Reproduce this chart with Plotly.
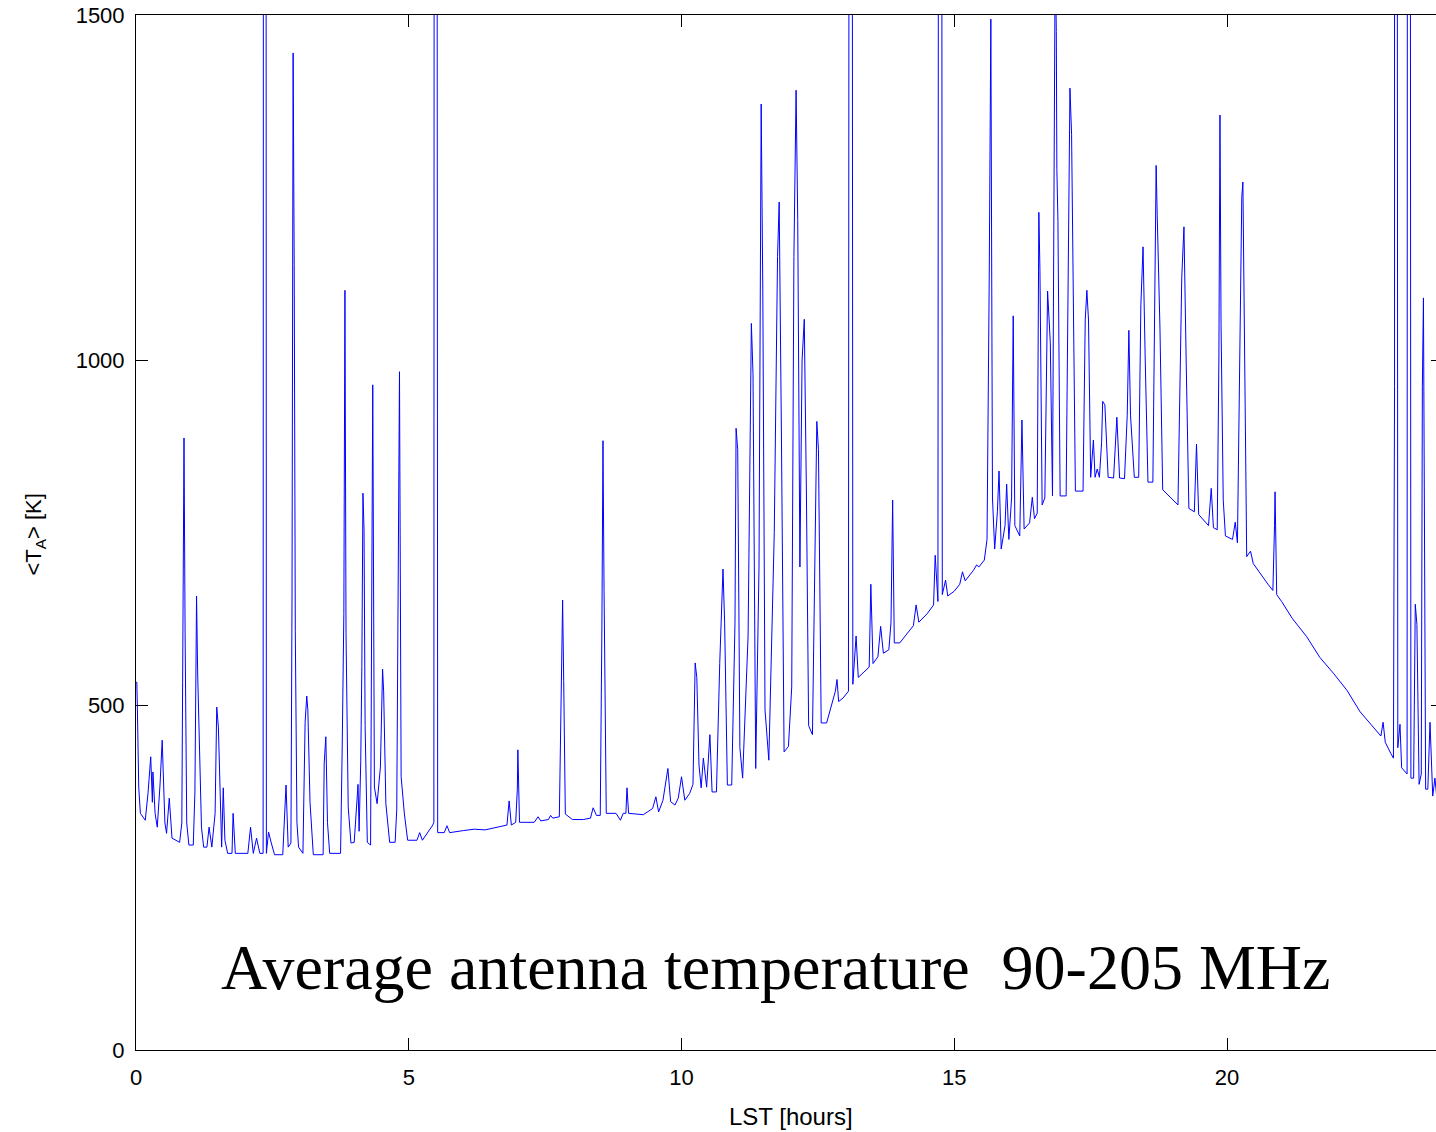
import plotly.graph_objects as go

# ---- data: (LST hours, <T_A> K) ----
seg1_lst = [0.000, 0.015, 0.025, 0.05, 0.08, 0.17, 0.22, 0.27, 0.30, 0.31, 0.35, 0.39, 0.44, 0.48, 0.53, 0.56,
            0.61, 0.66, 0.80, 0.84, 0.855, 0.88, 0.90, 0.93, 0.97, 1.05, 1.08, 1.11, 1.13, 1.17, 1.20, 1.24,
            1.30, 1.34, 1.39, 1.45, 1.48, 1.51, 1.55, 1.57, 1.60, 1.63, 1.68, 1.76, 1.78, 1.82, 2.05, 2.10,
            2.15, 2.21, 2.27, 2.33, 2.34, 2.38, 2.39, 2.43, 2.48, 2.54, 2.69, 2.75, 2.79, 2.84, 2.86, 2.88,
            2.90, 2.92, 2.95, 2.98, 3.06, 3.10, 3.13, 3.15, 3.19, 3.25, 3.43, 3.45, 3.48, 3.51, 3.55, 3.75,
            3.78, 3.81, 3.83, 3.85, 3.89, 3.94, 4.00, 4.03, 4.07, 4.09, 4.12, 4.14, 4.16, 4.18, 4.20, 4.24,
            4.30, 4.32, 4.34, 4.37, 4.42, 4.48, 4.52, 4.54, 4.58, 4.65, 4.75, 4.78, 4.81, 4.83, 4.86, 4.92,
            4.98, 5.15, 5.20, 5.25, 5.44, 5.46, 5.47, 5.51, 5.53, 5.65, 5.70, 5.75]
seg1_ta = [533, 533, 497, 381, 343, 333, 372, 425, 359, 403, 343, 323, 384, 449, 329, 314,
           365, 307, 301, 329, 533, 887, 604, 329, 297, 297, 374, 658, 548, 420, 323, 294,
           294, 323, 294, 343, 497, 468, 323, 294, 380, 304, 285, 285, 343, 285, 285, 323,
           285, 307, 285, 285, 3000, 3000, 285, 316, 300, 283, 283, 384, 294, 300, 658, 1445,
           1138, 606, 330, 294, 285, 475, 513, 493, 359, 283, 283, 416, 454, 330, 285, 285,
           439, 633, 1101, 604, 352, 300, 301, 343, 385, 317, 419, 556, 807, 755, 470, 301,
           297, 632, 964, 381, 357, 410, 552, 519, 357, 301, 301, 349, 772, 983, 396, 342,
           304, 304, 315, 304, 326, 330, 3000, 3000, 315, 315, 325, 315]

seg2_lst = [6.00, 6.20, 6.40, 6.70, 6.80, 6.84, 6.88, 6.96, 6.99, 7.00, 7.03, 7.30, 7.37, 7.42, 7.56, 7.60,
            7.64, 7.76, 7.79, 7.82, 7.84, 7.87, 8.00, 8.20, 8.33, 8.38, 8.44, 8.51, 8.54, 8.56, 8.58, 8.62,
            8.80, 8.88, 8.93, 8.98, 9.00, 9.03, 9.30, 9.47, 9.53, 9.58, 9.66, 9.70, 9.75, 9.80, 9.88, 9.94,
            10.00, 10.06, 10.15, 10.21, 10.25, 10.28, 10.32, 10.36, 10.40, 10.46, 10.52, 10.56, 10.64, 10.70,
            10.76, 10.79, 10.84, 10.92, 10.98, 11.00, 11.03, 11.07, 11.12, 11.22, 11.28, 11.31, 11.36, 11.42,
            11.46, 11.49, 11.53, 11.60, 11.70, 11.76, 11.79, 11.83, 11.88, 11.96]
seg2_ta = [318, 320, 319, 324, 326, 361, 326, 330, 378, 435, 330, 330, 338, 332, 334, 340,
           336, 338, 483, 652, 536, 342, 334, 334, 336, 351, 340, 340, 610, 883, 664, 343,
           343, 333, 343, 343, 380, 343, 341, 350, 367, 345, 362, 381, 408, 360, 355, 365,
           396, 362, 372, 385, 561, 540, 413, 380, 423, 381, 457, 374, 374, 560,
           697, 620, 384, 384, 620, 901, 870, 438, 394, 600, 1053, 980, 408, 700,
           1371, 1100, 493, 420, 750, 1150, 1229, 900, 432, 440]

seg3_lst = [12.02, 12.06, 12.10, 12.13, 12.17, 12.21, 12.25, 12.29, 12.33, 12.40, 12.45, 12.48, 12.51, 12.56,
            12.66, 12.75, 12.82, 12.85, 12.88, 12.96, 13.06, 13.08, 13.12, 13.14, 13.20, 13.24, 13.34, 13.44,
            13.47, 13.51, 13.60, 13.65, 13.70, 13.80, 13.84, 13.87, 13.90, 14.00, 14.10, 14.25, 14.30, 14.35,
            14.50, 14.62, 14.65, 14.70, 14.72, 14.76, 14.78, 14.84, 14.88, 15.00, 15.10, 15.15, 15.20, 15.35,
            15.41, 15.45, 15.55, 15.60, 15.64, 15.66, 15.67, 15.70, 15.74, 15.79, 15.82, 15.86, 15.93, 15.96,
            16.00, 16.05, 16.08, 16.11, 16.20, 16.24, 16.28, 16.38, 16.43, 16.47, 16.52, 16.55, 16.57, 16.61,
            16.66, 16.71, 16.76, 16.80, 16.83, 16.85, 16.87, 16.88, 16.90, 16.94, 17.05, 17.10, 17.12, 17.15,
            17.17, 17.22, 17.36, 17.40, 17.43, 17.46, 17.50, 17.55, 17.58, 17.62, 17.66, 17.70, 17.72, 17.76,
            17.82, 17.92, 17.98]
seg3_ta = [526, 1150, 1391, 1204, 700, 1000, 1059, 800, 470, 457, 700, 911, 870, 474,
           474, 500, 520, 537, 505, 510, 520, 3000, 3000, 530, 600, 540, 548, 555,
           675, 560, 570, 614, 575, 580, 620, 797, 590, 590, 600, 615, 645, 620,
           632, 645, 717, 650, 3000, 3000, 660, 681, 658, 665, 675, 693, 680, 695,
           703, 700, 710, 740, 1116, 1293, 1494, 800, 726, 780, 839, 726, 760, 820,
           740, 800, 1064, 760, 745, 913, 755, 764, 801, 770, 778, 1214, 1130, 790,
           800, 1100, 1025, 803, 1475, 1600, 1476, 1276, 1201, 803, 803, 1327, 1394, 1327,
           1168, 810, 810, 1058, 1101, 1058, 830, 884, 830, 842, 830, 880, 940, 935,
           830, 829, 917]

seg4_lst = [18.03, 18.12, 18.17, 18.20, 18.23, 18.30, 18.38, 18.42, 18.46, 18.50, 18.55, 18.64, 18.68, 18.70,
            18.72, 18.77, 18.82, 19.10, 19.17, 19.21, 19.25, 19.30, 19.40, 19.44, 19.48, 19.66, 19.71, 19.75,
            19.82, 19.85, 19.87, 19.89, 19.93, 19.97, 20.10, 20.15, 20.19, 20.24, 20.27, 20.29, 20.32, 20.36,
            20.43, 20.48, 20.75, 20.84, 20.87, 20.88, 20.91, 21.00, 21.20, 21.46, 21.70, 21.95, 22.20, 22.44,
            22.68, 22.82, 22.86, 22.90, 23.00, 23.05, 23.07, 23.07, 23.11, 23.13, 23.17, 23.20, 23.30, 23.31,
            23.35, 23.37, 23.42, 23.45, 23.48, 23.52, 23.56, 23.58, 23.60, 23.64, 23.68, 23.72, 23.77, 23.81,
            23.84]
seg4_ta = [829, 828, 920, 1043, 920, 830, 830, 1080, 1164, 1000, 823, 823, 1100, 1282,
           1209, 1046, 812, 790, 1120, 1193, 1000, 785, 780, 878, 776, 760, 814, 757,
           754, 1000, 1355, 1051, 797, 745, 740, 765, 735, 1049, 1236, 1258, 1049, 715,
           723, 705, 675, 666, 760, 809, 660, 650, 625, 599, 569, 546, 521, 490,
           468, 455, 475, 446, 430, 423, 962, 3000, 3000, 438, 472, 409, 400, 3000,
           3000, 394, 394, 646, 617, 385, 400, 962, 1090, 378, 378, 475, 368, 394,
           370]

lst_hours = seg1_lst + seg2_lst + seg3_lst + seg4_lst
ta_kelvin = seg1_ta + seg2_ta + seg3_ta + seg4_ta

x_ticks = [0, 5, 10, 15, 20]
y_ticks = [0, 500, 1000, 1500]

title_text = "Average antenna temperature\u00a0 90-205 MHz"

fig = go.Figure()
fig.add_trace(go.Scatter(x=lst_hours, y=ta_kelvin, mode="lines",
                         line=dict(color="#0000ff", width=1), showlegend=False,
                         hoverinfo="skip"))
# dummy trace for the right-hand mirror ticks
fig.add_trace(go.Scatter(x=[0], y=[0], yaxis="y2", mode="lines", opacity=0,
                         showlegend=False, hoverinfo="skip"))

tick_font = dict(family="Liberation Sans, Arial, sans-serif", size=22, color="black")

fig.update_layout(
    width=1436, height=1132,
    margin=dict(l=136, r=0, t=15, b=82),
    paper_bgcolor="white", plot_bgcolor="white",
    xaxis=dict(range=[0, 23.83], tickvals=x_ticks, ticktext=[str(v) for v in x_ticks],
               ticks="inside", ticklen=12, tickwidth=1, tickcolor="black",
               showline=True, linecolor="black", linewidth=1, mirror="ticks",
               showgrid=False, zeroline=False, tickfont=tick_font, ticklabelstandoff=8),
    yaxis=dict(range=[0, 1500], tickvals=y_ticks, ticktext=[str(v) for v in y_ticks],
               ticks="inside", ticklen=12, tickwidth=1, tickcolor="black",
               showline=True, linecolor="black", linewidth=1,
               showgrid=False, zeroline=False, tickfont=tick_font, ticklabelstandoff=6),
    yaxis2=dict(range=[0, 1500], overlaying="y", side="right", tickvals=y_ticks,
                ticks="inside", ticklen=5, tickwidth=1, tickcolor="black",
                showticklabels=False, showline=False, showgrid=False, zeroline=False),
    annotations=[
        dict(text="LST [hours]", x=12, xref="x", y=-0.0638, yref="paper",
             showarrow=False, xanchor="center", yanchor="middle",
             font=dict(family="Liberation Sans, Arial, sans-serif", size=24, color="black")),
        dict(text="&lt;T<sub>A</sub>&gt; [K]", x=-0.0777, xref="paper", y=0.498, yref="paper",
             showarrow=False, textangle=-90, xanchor="center", yanchor="middle",
             font=dict(family="Liberation Sans, Arial, sans-serif", size=22, color="black")),
        dict(text=title_text, x=0.492, xref="paper", y=0.080, yref="paper",
             showarrow=False, xanchor="center", yanchor="middle",
             font=dict(family="Liberation Serif, Times New Roman, serif", size=64, color="black")),
    ],
)

fig.write_html("out.html", config={"displayModeBar": False},
               post_script="document.body.style.margin='0px';document.body.style.overflow='hidden';")
